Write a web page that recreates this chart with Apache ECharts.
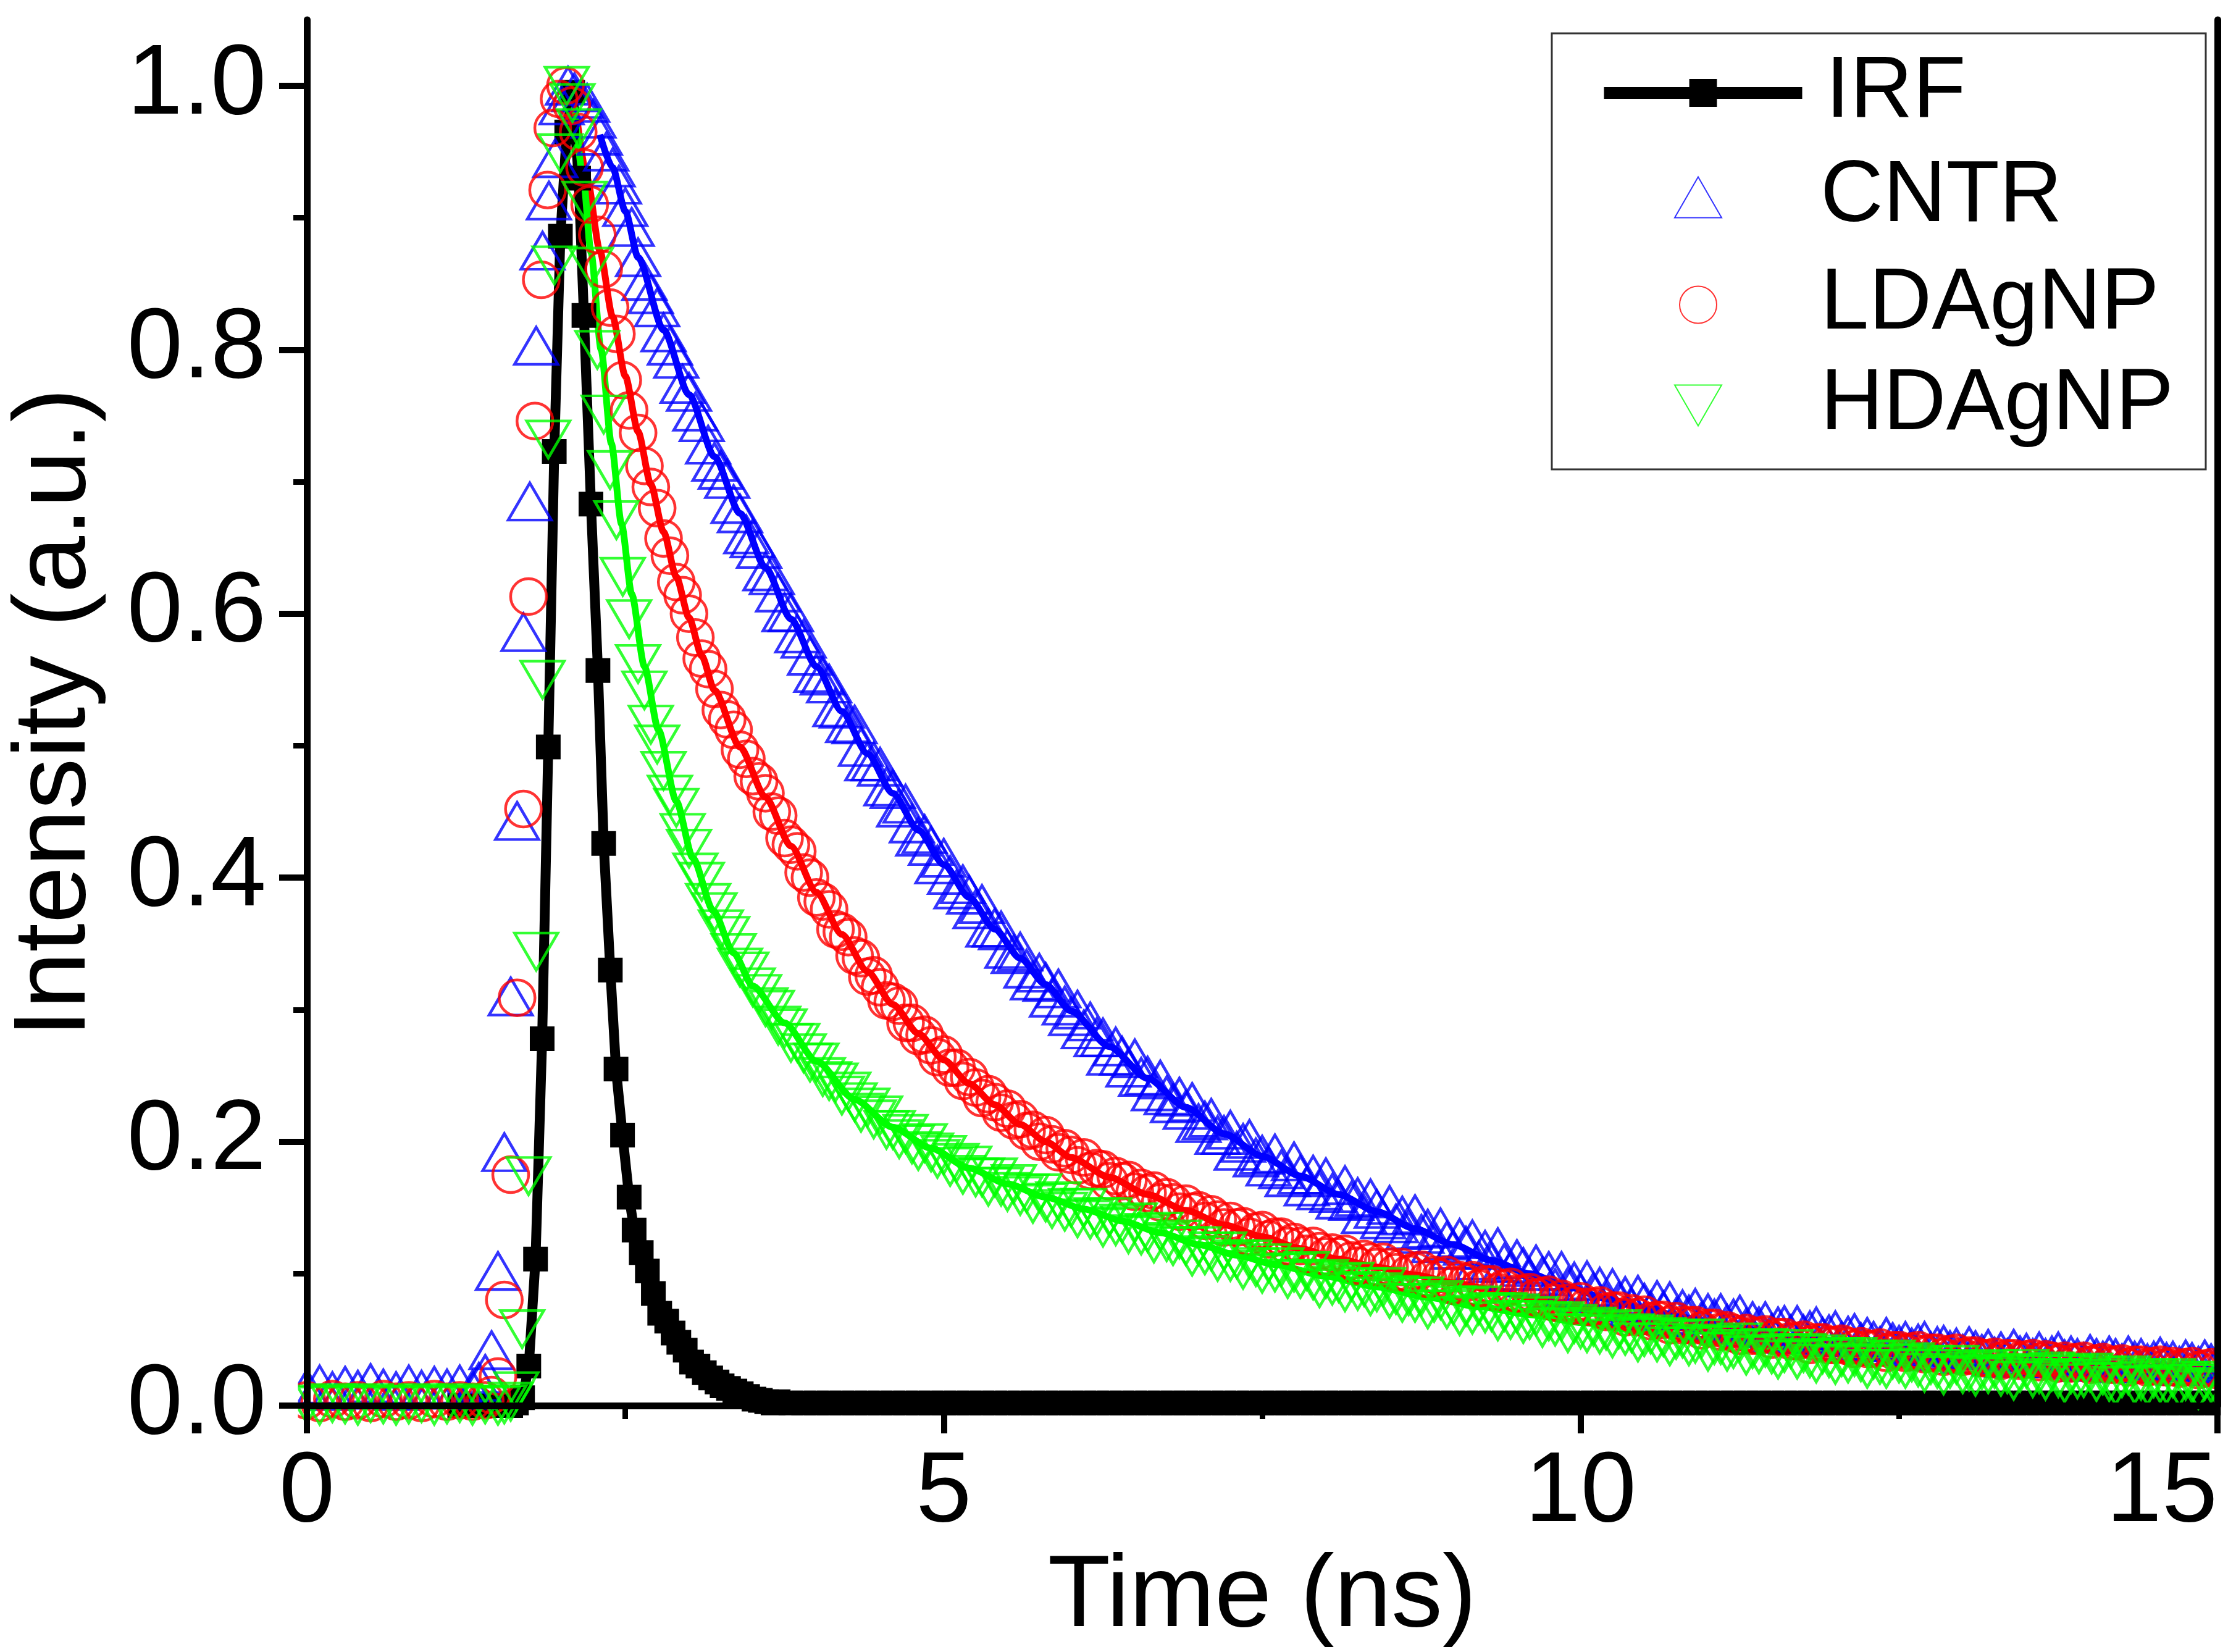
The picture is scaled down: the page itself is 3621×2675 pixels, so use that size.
<!DOCTYPE html>
<html lang="en">

<head>
    <meta charset="UTF-8">
    <title>Fluorescence decay</title>
    <script src="https://cdn.jsdelivr.net/npm/echarts@6/dist/echarts.min.js"></script>
    <style>
        body {
            margin: 0;
            background: #fff;
        }

        #root {
            width: 100vw;
            height: 100vh;
        }
    </style>
</head>

<body>

    <div id="root"></div>
    <script>

        // ---- data: [time (ns), intensity] ----
        var xTicks = [0, 5, 10, 15];
        var yTicks = [0, 0.2, 0.4, 0.6, 0.8, 1.0];
        var yMinorTicks = [0.1, 0.3, 0.5, 0.7, 0.9];

        // decay tails are sampled every 0.05 ns from 2.6 ns on
        var tailStart = 2.6;
        var tailStep = 0.05;

        var irfHead = [
            [1.20, 0], [1.25, 0], [1.30, 0], [1.35, 0], [1.40, 0], [1.45, 0], [1.50, 0], [1.55, 0], [1.60, 0],
            [1.645, 0.002], [1.693, 0.006], [1.742, 0.030], [1.795, 0.111], [1.847, 0.278], [1.895, 0.499],
            [1.942, 0.723], [1.990, 0.886], [2.040, 0.965], [2.087, 0.995], [2.133, 0.930], [2.175, 0.826],
            [2.230, 0.683], [2.285, 0.557], [2.330, 0.426], [2.382, 0.330], [2.427, 0.255], [2.478, 0.205],
            [2.530, 0.158], [2.569, 0.133], [2.625, 0.116], [2.673, 0.102], [2.720, 0.085], [2.770, 0.070],
            [2.825, 0.064], [2.875, 0.055], [2.920, 0.048], [2.970, 0.042], [3.020, 0.033], [3.070, 0.030],
            [3.120, 0.025], [3.170, 0.021], [3.220, 0.018], [3.260, 0.015], [3.310, 0.013], [3.360, 0.011],
            [3.410, 0.009], [3.460, 0.007], [3.510, 0.005], [3.560, 0.004], [3.610, 0.003], [3.660, 0.002]
        ];
        // IRF from 3.7 ns to 15 ns, every 0.1 ns
        var irfTail = [
            0.003, 0.002, 0.002, 0.002, 0.002, 0.002, 0.002, 0.002, 0.002, 0.002,
            0.002, 0.002, 0.002, 0.002, 0.002, 0.002, 0.002, 0.002, 0.002, 0.002,
            0.002, 0.002, 0.002, 0.002, 0.002, 0.002, 0.002, 0.002, 0.002, 0.002,
            0.002, 0.002, 0.002, 0.002, 0.002, 0.002, 0.002, 0.002, 0.002, 0.002,
            0.002, 0.002, 0.002, 0.002, 0.002, 0.002, 0.002, 0.002, 0.002, 0.002,
            0.002, 0.002, 0.002, 0.002, 0.002, 0.002, 0.002, 0.002, 0.002, 0.002,
            0.002, 0.002, 0.002, 0.002, 0.002, 0.002, 0.002, 0.002, 0.002, 0.002,
            0.002, 0.002, 0.002, 0.002, 0.002, 0.002, 0.002, 0.002, 0.002, 0.002,
            0.002, 0.002, 0.002, 0.002, 0.002, 0.002, 0.002, 0.002, 0.002, 0.002,
            0.002, 0.002, 0.002, 0.002, 0.002, 0.002, 0.002, 0.002, 0.002, 0.002,
            0.002, 0.002, 0.002, 0.002, 0.002, 0.002, 0.002, 0.002, 0.002, 0.002,
            0.002, 0.002, 0.002, 0.002
        ];

        var cntrHead = [
            [0.0, 0.013], [0.1, 0.016], [0.2, 0.011], [0.3, 0.015], [0.4, 0.012], [0.5, 0.017], [0.6, 0.013],
            [0.7, 0.011], [0.8, 0.016], [0.9, 0.012], [1.0, 0.015], [1.1, 0.013], [1.2, 0.016], [1.3, 0.012],
            [1.35, 0.018], [1.40, 0.024], [1.45, 0.042], [1.50, 0.102], [1.55, 0.192], [1.60, 0.310],
            [1.65, 0.443], [1.70, 0.586], [1.75, 0.685], [1.80, 0.803], [1.85, 0.875], [1.90, 0.913],
            [1.95, 0.945], [2.00, 0.985], [2.05, 1.000], [2.10, 0.995], [2.15, 0.990], [2.20, 0.987],
            [2.25, 0.975], [2.30, 0.962], [2.35, 0.950], [2.40, 0.938], [2.45, 0.925], [2.50, 0.908], [2.55, 0.893]
        ];
        var cntrTail = [
            0.870, 0.852, 0.842, 0.832, 0.813, 0.803, 0.793, 0.774, 0.768, 0.753,
            0.745, 0.728, 0.715, 0.709, 0.702, 0.683, 0.676, 0.660, 0.657, 0.649,
            0.632, 0.629, 0.616, 0.601, 0.601, 0.585, 0.581, 0.568, 0.555, 0.553,
            0.547, 0.529, 0.528, 0.517, 0.516, 0.499, 0.488, 0.488, 0.484, 0.469,
            0.467, 0.453, 0.456, 0.441, 0.431, 0.433, 0.424, 0.410, 0.415, 0.402,
            0.391, 0.395, 0.387, 0.376, 0.380, 0.362, 0.362, 0.360, 0.346, 0.342,
            0.344, 0.331, 0.322, 0.328, 0.321, 0.309, 0.316, 0.303, 0.295, 0.300,
            0.285, 0.291, 0.279, 0.279, 0.265, 0.272, 0.265, 0.256, 0.263, 0.249,
            0.250, 0.238, 0.247, 0.235, 0.229, 0.234, 0.224, 0.230, 0.214, 0.216,
            0.218, 0.205, 0.205, 0.209, 0.193, 0.199, 0.202, 0.188, 0.190, 0.181,
            0.191, 0.179, 0.173, 0.185, 0.175, 0.166, 0.175, 0.163, 0.173, 0.161,
            0.156, 0.167, 0.155, 0.158, 0.145, 0.157, 0.149, 0.141, 0.152, 0.138,
            0.144, 0.133, 0.145, 0.130, 0.134, 0.123, 0.135, 0.125, 0.118, 0.127,
            0.121, 0.126, 0.110, 0.118, 0.108, 0.120, 0.108, 0.102, 0.111, 0.105,
            0.097, 0.107, 0.098, 0.102, 0.089, 0.102, 0.090, 0.094, 0.085, 0.095,
            0.086, 0.090, 0.078, 0.089, 0.079, 0.083, 0.074, 0.084, 0.078, 0.072,
            0.080, 0.072, 0.079, 0.067, 0.073, 0.069, 0.074, 0.064, 0.070, 0.066,
            0.070, 0.062, 0.066, 0.069, 0.059, 0.064, 0.060, 0.064, 0.055, 0.060,
            0.061, 0.054, 0.061, 0.054, 0.057, 0.060, 0.052, 0.054, 0.057, 0.049,
            0.053, 0.055, 0.048, 0.052, 0.049, 0.045, 0.052, 0.048, 0.046, 0.049,
            0.044, 0.047, 0.049, 0.041, 0.045, 0.046, 0.042, 0.044, 0.039, 0.045,
            0.042, 0.039, 0.043, 0.037, 0.041, 0.036, 0.043, 0.038, 0.040, 0.036,
            0.041, 0.036, 0.038, 0.041, 0.035, 0.038, 0.036, 0.033, 0.039, 0.036,
            0.034, 0.038, 0.036, 0.032, 0.038, 0.034, 0.036, 0.032, 0.034, 0.037,
            0.033, 0.034, 0.030, 0.035, 0.033, 0.030, 0.035, 0.032, 0.031
        ];
        var cntrFit = [
            [2.30, 0.963], [2.40, 0.938], [2.50, 0.905], [2.60, 0.870], [2.80, 0.815], [3.00, 0.766],
            [3.20, 0.719], [3.40, 0.676], [3.60, 0.635], [3.80, 0.596], [4.00, 0.560], [4.20, 0.526],
            [4.40, 0.494], [4.60, 0.464], [4.80, 0.436], [5.00, 0.410], [5.20, 0.385], [5.40, 0.361],
            [5.60, 0.339], [5.80, 0.319], [6.00, 0.299], [6.30, 0.272], [6.60, 0.248], [6.90, 0.226],
            [7.20, 0.206], [7.50, 0.189], [7.80, 0.174], [8.10, 0.160], [8.40, 0.147], [8.70, 0.134],
            [9.00, 0.122], [9.30, 0.110], [9.60, 0.100], [9.90, 0.090], [10.2, 0.081], [10.5, 0.074],
            [10.8, 0.067], [11.1, 0.061], [11.4, 0.057], [11.7, 0.052], [12.0, 0.049], [12.4, 0.044],
            [12.8, 0.040], [13.2, 0.036], [13.6, 0.034], [14.0, 0.032], [14.5, 0.029], [15.0, 0.027]
        ];

        var ldHead = [
            [0.0, 0.004], [0.1, 0.002], [0.2, 0.005], [0.3, 0.003], [0.4, 0.004], [0.5, 0.002], [0.6, 0.005],
            [0.7, 0.003], [0.8, 0.004], [0.9, 0.002], [1.0, 0.005], [1.1, 0.003], [1.2, 0.004], [1.3, 0.003],
            [1.40, 0.004], [1.45, 0.008], [1.50, 0.022], [1.55, 0.080], [1.60, 0.175], [1.65, 0.309],
            [1.70, 0.452], [1.74, 0.613], [1.79, 0.746], [1.84, 0.853], [1.89, 0.921], [1.93, 0.968],
            [1.98, 0.990], [2.03, 1.000], [2.08, 0.985], [2.13, 0.965], [2.18, 0.938], [2.22, 0.910],
            [2.28, 0.887], [2.33, 0.861], [2.38, 0.832], [2.43, 0.812], [2.48, 0.777], [2.53, 0.754]
        ];
        var ldTail = [
            0.737, 0.712, 0.696, 0.680, 0.657, 0.644, 0.624, 0.614, 0.600, 0.582,
            0.566, 0.558, 0.543, 0.527, 0.520, 0.512, 0.497, 0.490, 0.477, 0.473,
            0.464, 0.450, 0.447, 0.430, 0.425, 0.420, 0.404, 0.400, 0.385, 0.382,
            0.376, 0.361, 0.359, 0.355, 0.341, 0.339, 0.325, 0.326, 0.317, 0.307,
            0.306, 0.303, 0.290, 0.290, 0.280, 0.281, 0.273, 0.264, 0.266, 0.256,
            0.256, 0.246, 0.249, 0.241, 0.233, 0.236, 0.230, 0.222, 0.225, 0.216,
            0.217, 0.208, 0.209, 0.200, 0.205, 0.198, 0.192, 0.195, 0.190, 0.182,
            0.188, 0.178, 0.180, 0.179, 0.170, 0.174, 0.170, 0.171, 0.162, 0.165,
            0.161, 0.163, 0.154, 0.158, 0.154, 0.147, 0.153, 0.147, 0.148, 0.140,
            0.145, 0.141, 0.135, 0.140, 0.135, 0.136, 0.128, 0.132, 0.133, 0.126,
            0.128, 0.128, 0.121, 0.124, 0.121, 0.115, 0.121, 0.117, 0.113, 0.116,
            0.113, 0.115, 0.110, 0.106, 0.111, 0.109, 0.105, 0.109, 0.105, 0.101,
            0.105, 0.100, 0.102, 0.103, 0.096, 0.099, 0.097, 0.099, 0.091, 0.095,
            0.093, 0.095, 0.089, 0.092, 0.092, 0.086, 0.089, 0.090, 0.085, 0.085,
            0.086, 0.082, 0.083, 0.084, 0.078, 0.081, 0.078, 0.076, 0.079, 0.075,
            0.075, 0.076, 0.071, 0.072, 0.072, 0.067, 0.070, 0.067, 0.069, 0.064,
            0.065, 0.065, 0.061, 0.064, 0.061, 0.061, 0.061, 0.057, 0.059, 0.059,
            0.056, 0.057, 0.055, 0.053, 0.055, 0.053, 0.053, 0.054, 0.050, 0.052,
            0.052, 0.049, 0.049, 0.050, 0.046, 0.048, 0.048, 0.046, 0.046, 0.047,
            0.045, 0.043, 0.045, 0.043, 0.043, 0.044, 0.040, 0.042, 0.042, 0.040,
            0.041, 0.042, 0.039, 0.040, 0.040, 0.037, 0.039, 0.040, 0.037, 0.038,
            0.038, 0.036, 0.036, 0.037, 0.034, 0.036, 0.036, 0.034, 0.035, 0.036,
            0.033, 0.035, 0.034, 0.032, 0.034, 0.032, 0.033, 0.034, 0.031, 0.032,
            0.033, 0.031, 0.031, 0.032, 0.029, 0.031, 0.031, 0.029, 0.030, 0.031,
            0.029, 0.030, 0.028, 0.029, 0.030, 0.027, 0.028, 0.029, 0.027
        ];
        var ldFit = [
            [2.12, 0.975], [2.20, 0.930], [2.30, 0.875], [2.40, 0.825], [2.50, 0.780], [2.60, 0.738],
            [2.70, 0.698], [2.80, 0.662], [2.90, 0.628], [3.00, 0.597], [3.10, 0.568], [3.20, 0.542],
            [3.40, 0.499], [3.60, 0.461], [3.80, 0.424], [4.00, 0.389], [4.20, 0.357], [4.40, 0.329],
            [4.60, 0.304], [4.80, 0.282], [5.00, 0.262], [5.20, 0.244], [5.40, 0.228], [5.60, 0.213],
            [5.80, 0.200], [6.00, 0.188], [6.30, 0.173], [6.60, 0.160], [6.90, 0.148], [7.20, 0.137],
            [7.50, 0.128], [7.80, 0.119], [8.10, 0.111], [8.40, 0.105], [8.70, 0.099], [9.00, 0.093],
            [9.30, 0.088], [9.60, 0.082], [9.90, 0.076], [10.2, 0.070], [10.5, 0.064], [10.8, 0.059],
            [11.1, 0.054], [11.4, 0.050], [11.7, 0.046], [12.0, 0.043], [12.4, 0.039], [12.8, 0.036],
            [13.2, 0.033], [13.6, 0.031], [14.0, 0.029], [14.5, 0.027], [15.0, 0.025]
        ];

        var hdHead = [
            [0.0, 0.001], [0.1, 0.000], [0.2, 0.002], [0.3, 0.001], [0.4, 0.000], [0.5, 0.002], [0.6, 0.001],
            [0.7, 0.000], [0.8, 0.001], [0.9, 0.002], [1.0, 0.000], [1.1, 0.001], [1.2, 0.002], [1.3, 0.000],
            [1.40, 0.001], [1.50, 0.000], [1.55, 0.001], [1.60, 0.003], [1.645, 0.011], [1.69, 0.058],
            [1.74, 0.174], [1.80, 0.344], [1.85, 0.550], [1.895, 0.732], [1.943, 0.864], [1.99, 0.949],
            [2.04, 1.000], [2.085, 0.987], [2.135, 0.968], [2.18, 0.913], [2.23, 0.863], [2.28, 0.800],
            [2.33, 0.751], [2.38, 0.709], [2.43, 0.671], [2.48, 0.628], [2.53, 0.596]
        ];
        var hdTail = [
            0.562, 0.542, 0.516, 0.501, 0.481, 0.463, 0.453, 0.434, 0.422, 0.404,
            0.397, 0.381, 0.374, 0.361, 0.356, 0.343, 0.332, 0.329, 0.317, 0.312,
            0.302, 0.300, 0.288, 0.286, 0.275, 0.275, 0.267, 0.260, 0.260, 0.249,
            0.246, 0.245, 0.235, 0.238, 0.230, 0.222, 0.226, 0.217, 0.220, 0.209,
            0.209, 0.202, 0.206, 0.198, 0.193, 0.199, 0.192, 0.187, 0.190, 0.181,
            0.184, 0.175, 0.182, 0.173, 0.173, 0.166, 0.173, 0.166, 0.162, 0.168,
            0.159, 0.161, 0.153, 0.161, 0.154, 0.149, 0.155, 0.147, 0.150, 0.142,
            0.150, 0.141, 0.143, 0.135, 0.143, 0.136, 0.138, 0.130, 0.139, 0.129,
            0.131, 0.123, 0.132, 0.124, 0.121, 0.126, 0.121, 0.113, 0.121, 0.114,
            0.117, 0.109, 0.117, 0.109, 0.111, 0.103, 0.111, 0.105, 0.100, 0.108,
            0.101, 0.105, 0.096, 0.101, 0.096, 0.102, 0.095, 0.089, 0.096, 0.091,
            0.093, 0.086, 0.094, 0.087, 0.090, 0.083, 0.086, 0.090, 0.081, 0.084,
            0.078, 0.083, 0.078, 0.083, 0.073, 0.078, 0.080, 0.073, 0.076, 0.068,
            0.075, 0.069, 0.076, 0.070, 0.071, 0.064, 0.071, 0.065, 0.070, 0.062,
            0.065, 0.068, 0.059, 0.064, 0.060, 0.064, 0.055, 0.062, 0.058, 0.055,
            0.060, 0.054, 0.057, 0.051, 0.058, 0.053, 0.055, 0.048, 0.052, 0.054,
            0.048, 0.052, 0.045, 0.050, 0.051, 0.045, 0.047, 0.051, 0.041, 0.046,
            0.046, 0.041, 0.043, 0.048, 0.038, 0.043, 0.039, 0.044, 0.039, 0.035,
            0.040, 0.043, 0.035, 0.040, 0.036, 0.032, 0.039, 0.036, 0.031, 0.037,
            0.032, 0.037, 0.033, 0.028, 0.035, 0.031, 0.028, 0.035, 0.032, 0.028,
            0.033, 0.029, 0.025, 0.031, 0.028, 0.023, 0.028, 0.031, 0.024, 0.026,
            0.022, 0.027, 0.024, 0.028, 0.022, 0.024, 0.019, 0.025, 0.028, 0.021,
            0.024, 0.019, 0.026, 0.021, 0.017, 0.024, 0.020, 0.021, 0.025, 0.018,
            0.023, 0.018, 0.015, 0.021, 0.023, 0.016, 0.019, 0.015, 0.021, 0.017,
            0.016, 0.021, 0.014, 0.019, 0.017, 0.012, 0.019, 0.017, 0.014
        ];
        var hdFit = [
            [2.10, 0.984], [2.17, 0.930], [2.23, 0.874], [2.31, 0.800], [2.39, 0.729], [2.47, 0.668],
            [2.55, 0.615], [2.65, 0.560], [2.76, 0.512], [2.90, 0.458], [3.03, 0.415], [3.19, 0.375],
            [3.35, 0.343], [3.50, 0.318], [3.75, 0.290], [4.00, 0.261], [4.30, 0.232], [4.60, 0.211],
            [4.90, 0.195], [5.20, 0.180], [5.50, 0.168], [5.80, 0.158], [6.10, 0.149], [6.40, 0.140],
            [6.70, 0.131], [7.00, 0.122], [7.30, 0.114], [7.60, 0.107], [8.00, 0.098], [8.40, 0.090],
            [8.80, 0.082], [9.20, 0.075], [9.60, 0.069], [10.0, 0.063], [10.5, 0.056], [11.0, 0.050],
            [11.5, 0.044], [12.0, 0.039], [12.5, 0.035], [13.0, 0.030], [13.5, 0.028], [14.0, 0.025],
            [14.5, 0.023], [15.0, 0.021]
        ];

        // ---- build series data ----
        function withTail(head, tail, t0, dt) {
            var pts = head.slice();
            tail.forEach(function (v, i) {
                pts.push([+(t0 + i * dt).toFixed(2), v]);
            });
            return pts;
        }

        var irfData = withTail(irfHead, irfTail, 3.7, 0.1);
        var cntrData = withTail(cntrHead, cntrTail, tailStart, tailStep);
        var ldData = withTail(ldHead, ldTail, tailStart, tailStep);
        var hdData = withTail(hdHead, hdTail, tailStart, tailStep);

        var FONT = 'Liberation Sans';
        var grid = { left: 488, right: 30, top: 32, bottom: 366 };
        var AXIS_W = 11;
        var legendBox = { x: 2513, y: 54, width: 1059, height: 706 };

        var mychart = echarts.init(document.getElementById('root'));
        var W = mychart.getWidth();
        var H = mychart.getHeight();

        function dataSeries(name, data, color, symbol, size, rotate) {
            return {
                name: name,
                type: 'scatter',
                data: data,
                symbol: symbol,
                symbolSize: size,
                symbolRotate: rotate || 0,
                itemStyle: {
                    color: 'rgba(255,255,255,0)',
                    borderColor: color,
                    borderWidth: 4.5
                },
                z: 2
            };
        }

        function fitSeries(name, data, color) {
            return {
                name: name,
                type: 'line',
                data: data,
                showSymbol: false,
                symbol: 'none',
                smooth: 0.25,
                smoothMonotone: 'x',
                lineStyle: { color: color, width: 11 },
                z: 2
            };
        }

        // white masks outside the plot, under the axes, so markers look clipped like the original
        var masks = [
            { x: 0, y: H - grid.bottom + AXIS_W / 2, width: W, height: grid.bottom },
            { x: 0, y: 0, width: grid.left - AXIS_W / 2, height: H },
            { x: W - grid.right + AXIS_W / 2, y: 0, width: grid.right, height: H },
            { x: 0, y: 0, width: W, height: grid.top - AXIS_W / 2 }
        ].map(function (r) {
            return { type: 'rect', shape: r, style: { fill: '#fff' }, z: 3, silent: true };
        });
        masks.push({
            type: 'rect', shape: legendBox, z: 4, silent: true,
            style: { fill: 'rgba(0,0,0,0)', stroke: '#333', lineWidth: 3 }
        });

        var tickLabel = { fontFamily: FONT, fontSize: 162, color: '#000' };
        var legendText = { fontFamily: FONT, fontSize: 141, color: '#000' };

        // one legend per entry so each icon gets the size it has in the original;
        // icons are centred on x = 2749, labels start at x = 2947
        function symbolLegend(item, w, h, top) {
            var left = 2749 - w / 2;
            return {
                data: [item],
                orient: 'vertical',
                left: left,
                top: top,
                padding: 0,
                itemWidth: w,
                itemHeight: h,
                selectedMode: false,
                textStyle: Object.assign({ padding: [0, 0, 0, 2947 - (left + w + 5)] }, legendText)
            };
        }

        mychart.setOption({
            animation: false,
            backgroundColor: '#fff',
            textStyle: { fontFamily: FONT },
            grid: grid,
            graphic: { elements: masks },
            legend: [{
                data: ['IRF'],
                orient: 'vertical',
                left: 2588,
                top: 80,
                padding: 0,
                itemWidth: 321,
                itemHeight: 56,
                selectedMode: false,
                lineStyle: { width: 19, color: '#000' },
                textStyle: Object.assign({ padding: [0, 0, 0, 33] }, legendText)
            },
                symbolLegend('CNTR', 76, 66, 249),
                symbolLegend('LDAgNP', 60, 60, 423),
                symbolLegend({ name: 'HDAgNP', icon: 'path://M0,0L76,0L38,66Z' }, 76, 66, 586)
            ],
            xAxis: [{
                type: 'value',
                min: 0,
                max: 15,
                interval: 5,
                position: 'bottom',
                z: 5,
                name: 'Time (ns)',
                nameLocation: 'middle',
                nameGap: 172,
                nameTextStyle: { fontFamily: FONT, fontSize: 166, color: '#000' },
                axisLine: { lineStyle: { color: '#000', width: AXIS_W } },
                axisTick: { inside: false, length: 45, lineStyle: { color: '#000', width: 10 } },
                minorTick: { show: true, splitNumber: 2, length: 22, lineStyle: { color: '#000', width: 9 } },
                splitLine: { show: false },
                minorSplitLine: { show: false },
                axisLabel: Object.assign({ margin: 61, alignMaxLabel: 'right', customValues: xTicks }, tickLabel)
            }, {
                type: 'value',
                min: 0,
                max: 15,
                position: 'top',
                z: 5,
                axisLine: { lineStyle: { color: '#000', width: AXIS_W } },
                axisTick: { show: false },
                axisLabel: { show: false },
                splitLine: { show: false }
            }],
            yAxis: [{
                type: 'value',
                min: 0,
                max: 1.05,
                position: 'left',
                z: 5,
                name: 'Intensity (a.u.)',
                nameLocation: 'middle',
                nameGap: 323,
                nameTextStyle: { fontFamily: FONT, fontSize: 166, color: '#000' },
                axisLine: { lineStyle: { color: '#000', width: AXIS_W } },
                axisTick: { inside: false, length: 45, customValues: yTicks, lineStyle: { color: '#000', width: 10 } },
                splitLine: { show: false },
                axisLabel: Object.assign({
                    margin: 66,
                    customValues: yTicks,
                    formatter: function (v) { return v.toFixed(1); }
                }, tickLabel)
            }, {
                type: 'value',
                min: 0,
                max: 1.05,
                position: 'left',
                z: 5,
                axisLine: { show: false },
                axisTick: { inside: false, length: 22, customValues: yMinorTicks, lineStyle: { color: '#000', width: 9 } },
                axisLabel: { show: false },
                splitLine: { show: false }
            }, {
                type: 'value',
                min: 0,
                max: 1.05,
                position: 'right',
                z: 5,
                axisLine: { lineStyle: { color: '#000', width: AXIS_W } },
                axisTick: { show: false },
                axisLabel: { show: false },
                splitLine: { show: false }
            }],
            series: [
                {
                    name: 'IRF',
                    type: 'line',
                    data: irfData,
                    symbol: 'rect',
                    symbolSize: 40,
                    showSymbol: true,
                    lineStyle: { color: '#000', width: 16 },
                    itemStyle: { color: '#000' },
                    z: 2
                },
                dataSeries('CNTR', cntrData, '#0000ff', 'triangle', [70, 60]),
                fitSeries('CNTR fit', cntrFit, '#0000ff'),
                dataSeries('LDAgNP', ldData, '#ff0000', 'circle', 58),
                fitSeries('LDAgNP fit', ldFit, '#ff0000'),
                dataSeries('HDAgNP', hdData, '#00ff00', 'triangle', [70, 60], 180),
                fitSeries('HDAgNP fit', hdFit, '#00ff00')
            ]
        });

    </script>

</body>

</html>
